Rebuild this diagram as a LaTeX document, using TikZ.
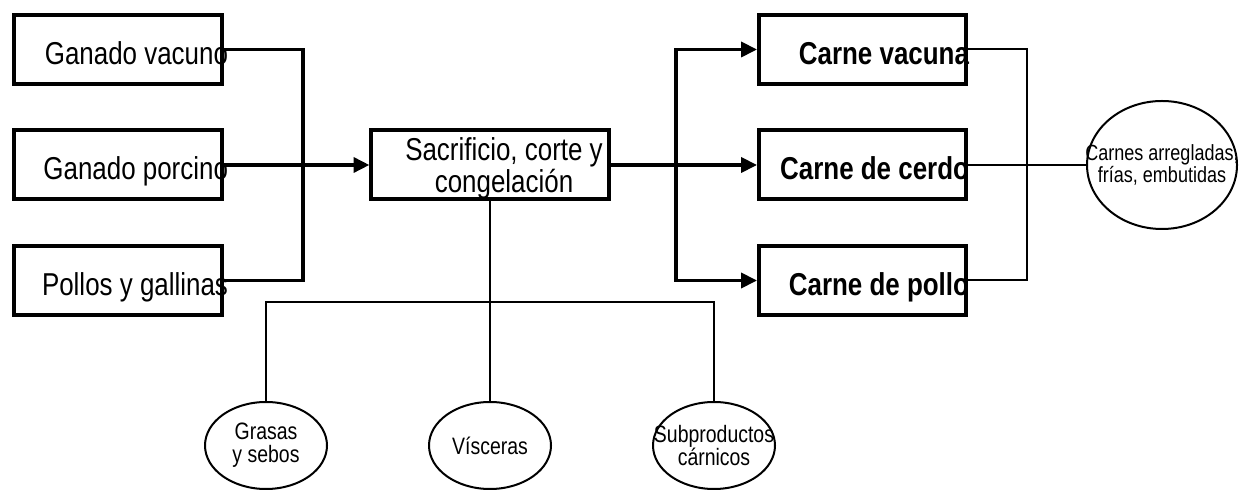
\documentclass[tikz,border=0pt]{standalone}
\usepackage{fontspec}
\setmainfont{Liberation Sans}[FakeStretch=0.82]
\usepackage{tikz}
\usetikzlibrary{arrows.meta,shapes.geometric}
\tikzset{
  src/.style={rectangle, draw=black, line width=0.08cm, minimum width=4.16cm,
              minimum height=1.38cm, text width=4.40cm, inner xsep=-0.12cm,
              align=flush right, font=\fontsize{18}{18}\selectfont,
              text height=17pt, text depth=0pt},
  prod/.style={src, minimum width=4.14cm, text width=4.26cm, inner xsep=-0.06cm,
               font=\fontsize{18}{18}\selectfont\bfseries},
  proc/.style={rectangle, draw=black, line width=0.08cm, minimum width=4.16cm,
               minimum height=1.38cm, align=center,
               font=\fontsize{18}{16}\selectfont, text depth=-7pt},
  byprod/.style={ellipse, draw=black, line width=0.04cm, minimum width=2.44cm,
                 minimum height=1.74cm, inner xsep=-0.8cm, inner ysep=-0.4cm,
                 align=center, font=\fontsize{13.5}{13}\selectfont},
  flow/.style={line width=0.07cm},
  link/.style={line width=0.04cm}
}

\begin{document}
\begin{tikzpicture}[>={Triangle[length=9pt,width=8.5pt]}]
        \useasboundingbox (0,0) rectangle (24.86,9.82);
        
        % --- Raw material
        \node[src] (vac) at (2.36,8.83) {Ganado vacuno};
        \node[src] (por) at (2.36,6.52) {Ganado porcino};
        \node[src] (pol) at (2.36,4.21) {Pollos y gallinas};
        
        % --- Process
        \node[proc] (sac) at (9.80,6.52) {\hspace*{0.56cm}Sacrificio, corte y\\\hspace*{0.56cm}congelaci\'on};
        
        % --- Main products
        \node[prod] (cvac) at (17.25,8.83) {Carne vacuna};
        \node[prod] (ccer) at (17.25,6.52) {Carne de cerdo};
        \node[prod] (cpol) at (17.25,4.21) {Carne de pollo};
        
        % --- Derived products
        \node[byprod, minimum width=3.0cm, minimum height=2.56cm, inner xsep=-1.2cm,
              inner ysep=-0.4cm, font=\fontsize{12.5}{10.5}\selectfont]
              (arr) at (23.24,6.52) {Carnes arregladas,\\fr\'ias, embutidas};
        \node[byprod] (gra) at (5.32,0.91) {Grasas\\y sebos};
        \node[byprod] (vis) at (9.80,0.91) {V\'isceras};
        \node[byprod] (sub) at (14.28,0.91) {Subproductos\\c\'arnicos};
        
        % --- Junctions
        \coordinate (jL) at (6.06,6.52);
        \coordinate (jR) at (13.52,6.52);
        \coordinate (jT) at (20.54,6.52);
        \coordinate (bus) at (9.80,3.78);
        
        % --- Raw material -> process
        \draw[flow] (vac.east) -| (jL) |- (pol.east);
        \draw[flow, ->] (por.east) -- (sac.west);
        
        % --- Process -> main products
        \draw[flow, ->] (sac.east) -- (ccer.west);
        \draw[flow, ->] (jR) |- (cvac.west);
        \draw[flow, ->] (jR) |- (cpol.west);
        
        % --- Main products -> derived products
        \draw[link] (cvac.east) -| (jT) |- (cpol.east);
        \draw[link] (ccer.east) -- (arr.west);
        
        % --- Process -> by-products
        \draw[link] (sac.south) -- (vis.north);
        \draw[link] (gra.north) |- (bus) -| (sub.north);
        
        \end{tikzpicture}
\end{document}
